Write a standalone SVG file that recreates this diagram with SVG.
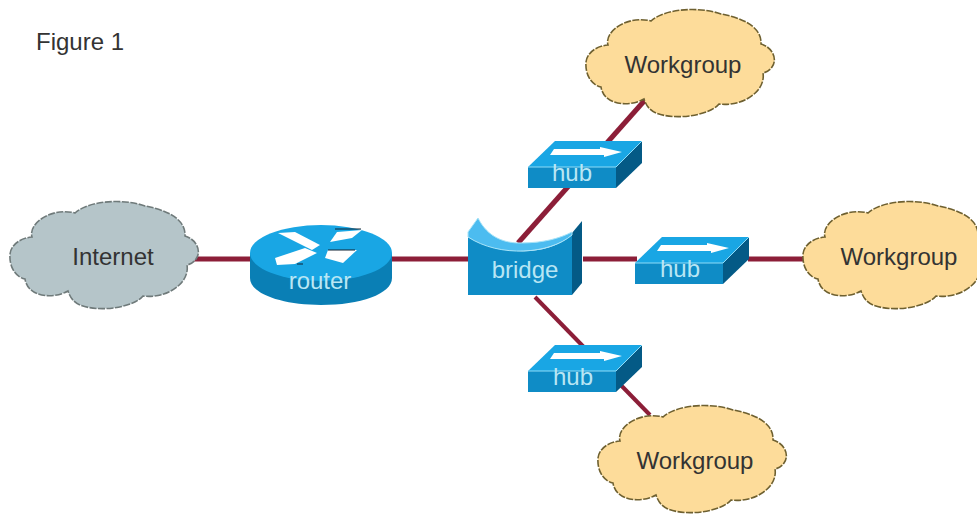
<svg xmlns="http://www.w3.org/2000/svg" width="977" height="514" viewBox="0 0 977 514">
<style>
text{font-family:"Liberation Sans",Arial,sans-serif;font-size:24px}
.dark{fill:#333}
.light{fill:#b9e6f4}
.mid{text-anchor:middle}
.cloud{stroke-width:1.6;stroke-dasharray:7 1.5}
.grey{fill:#b5c5c9;stroke:#6f7a7a}
.yellow{fill:#fddc9a;stroke:#6e6030}
.link{stroke:#8c1e38;stroke-width:5;fill:none}
.front{fill:#0f8cc6}
.top{fill:#19a6e4}
.side{fill:#045a86}
.white{fill:#fff}
</style>
<defs>
<path id="cloudShape" d="M0,53C1,44 10,37 22,36C18,22 42,6 65,12C78,0 112,-3 135,5C152,8 176,16 175,35C186,38 192,50 186,58C184,61 181,63 177,64C180,82 157,98 133,95C124,106 90,112 70,104C63,101 60,96 58,90C44,98 18,97 15,78C5,76 -1,65 0,53Z"/>
<g id="hubShape">
<path class="top" d="M528,167L555,141H642L616,167Z"/>
<path class="front" d="M528,167H616V188H528Z"/>
<path class="side" d="M616,167L642,141V163L616,188Z"/>
<path d="M528,167H616L642,141" fill="none" stroke="#8fdcf8" stroke-width="1"/>
<path class="white" d="M554,149H600V147L622,152L604,157V155H550Z"/>
</g>
</defs>
<rect width="977" height="514" fill="#fff"/>
<g id="connectors">
<path class="link" d="M190,259H252"/>
<path class="link" d="M392,259H470"/>
<path class="link" d="M583,259H637"/>
<path class="link" d="M748,259H806"/>
<path class="link" d="M518,243L645,100"/>
<path class="link" d="M535,297L650,415" style="stroke-width:4"/>
</g>
<text x="36" y="50" class="dark">Figure 1</text>
<g id="internet">
<use href="#cloudShape" x="10" y="201" class="cloud grey"/>
<text x="113" y="265" class="dark mid">Internet</text>
</g>
<g id="router">
<path fill="#0a7fb5" d="M250,253V278C250,294 282,305 321,305S392,294 392,278V253Z"/>
<ellipse class="top" cx="321" cy="253" rx="71" ry="28"/>
<path class="white" d="M278,233L295,232L320,245L312,250Z"/>
<path class="white" d="M330,242L337,232L362,230L352,238Z"/>
<path class="white" d="M275,258L305,248L317,253L295,264L277,265Z"/>
<path class="white" d="M325,258L328,250L357,250L343,263Z"/>
<path d="M335,229H361M328,250H355M297,264H303" stroke="#123" stroke-width="1" fill="none"/>
<text x="320" y="289" class="light mid">router</text>
</g>
<g id="bridge">
<path class="side" d="M572,233L582,221V283L572,295Z"/>
<path class="front" d="M468,237C490,250 540,262 572,235V295H468Z"/>
<path d="M468,237V232L478,218C488,238 505,243 520,243C545,243 560,238 572,232V235C550,254 500,258 468,237Z" fill="#4cbcf0" stroke="#a9e4f8" stroke-width="1"/>
<text x="525" y="278" class="light mid">bridge</text>
</g>
<g id="hub1">
<use href="#hubShape"/>
<text x="572" y="181" class="light mid">hub</text>
</g>
<g id="hub2">
<use href="#hubShape" x="107" y="96"/>
<text x="680" y="277" class="light mid">hub</text>
</g>
<g id="hub3">
<use href="#hubShape" y="204"/>
<text x="573" y="385" class="light mid">hub</text>
</g>
<g id="workgroup1">
<use href="#cloudShape" x="586" y="9" class="cloud yellow"/>
<text x="683" y="73" class="dark mid">Workgroup</text>
</g>
<g id="workgroup2">
<use href="#cloudShape" x="803" y="201" class="cloud yellow"/>
<text x="899" y="265" class="dark mid">Workgroup</text>
</g>
<g id="workgroup3">
<use href="#cloudShape" x="598" y="405" class="cloud yellow"/>
<text x="695" y="469" class="dark mid">Workgroup</text>
</g>
</svg>
